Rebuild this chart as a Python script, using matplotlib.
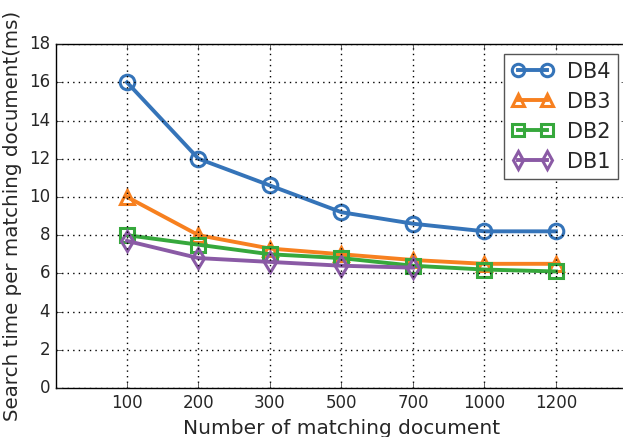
import matplotlib
matplotlib.use('Agg')
import matplotlib.pyplot as plt
import numpy as np

plt.style.use('classic')
plt.rcParams['text.color'] = '#262626'
plt.rcParams['xtick.color'] = '#262626'
plt.rcParams['ytick.color'] = '#262626'
plt.rcParams['axes.labelcolor'] = '#262626'

docs = ['100', '200', '300', '500', '700', '1000', '1200']
db4 = [16.0, 12.0, 10.6, 9.2, 8.6, 8.2, 8.2]
db3 = [10.0, 8.0, 7.3, 7.0, 6.7, 6.5, 6.5]
db2 = [8.0, 7.5, 7.0, 6.8, 6.4, 6.2, 6.1]
db1 = [7.7, 6.8, 6.6, 6.4, 6.3]

fig = plt.figure(figsize=(6.23, 4.37), dpi=100, facecolor='white')
ax = fig.add_axes([0.0891, 0.1121, 0.918, 0.787])

x = np.arange(1, len(docs) + 1)
style = dict(lw=2.8, ms=10.5, mew=2.2, mfc='none')
ax.plot(x, db4, 'o-', color='#3574b9', mec='#3574b9', label='DB4', **style)
ax.plot(x, db3, '^-', color='#f7801f', mec='#f7801f', label='DB3', **style)
ax.plot(x, db2, 's-', color='#36a83c', mec='#36a83c', label='DB2', **style)
ax.plot(x[:len(db1)], db1, 'd-', color='#8a5aa5', mec='#8a5aa5', label='DB1', **style)

ax.set_xlim(0, 8)
ax.set_ylim(0, 18)
ax.set_xticks(x)
ax.set_xticklabels(docs)
ax.set_yticks(np.arange(0, 19, 2))
ax.tick_params(labelsize=12)
ax.grid(True, color='black', linestyle=':', linewidth=1)
ax.set_xlabel('Number of matching document', fontsize=14.5)
ax.set_ylabel('Search time per matching document(ms)', fontsize=14.3)
leg = ax.legend(loc='upper right', bbox_to_anchor=(0.983, 0.971), borderaxespad=0,
                numpoints=2, fontsize=15, fancybox=False, handlelength=2.0,
                handletextpad=0.65, labelspacing=0.48, borderpad=0.36,
                markerscale=0.85)
leg.get_frame().set_edgecolor('#555555')

fig.savefig('out.png', dpi=100, facecolor='white')
